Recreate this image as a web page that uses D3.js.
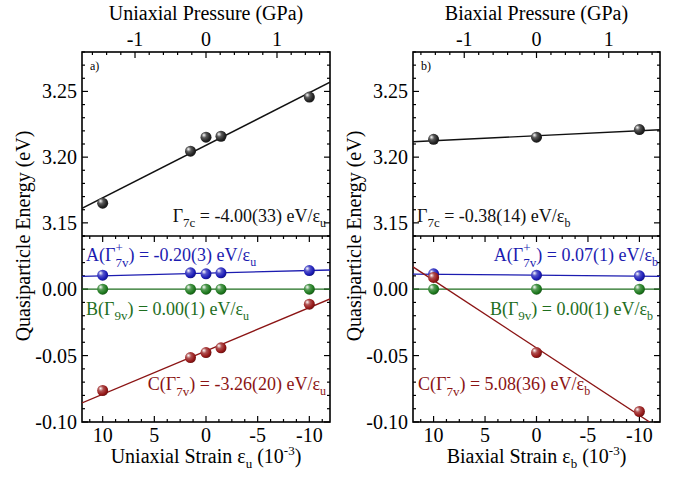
<!DOCTYPE html>
<html><head><meta charset="utf-8">
<script src="https://cdn.jsdelivr.net/npm/d3@7"></script>
<style>body{margin:0;background:#fff}svg{display:block}svg text{font-family:"Liberation Serif","Tinos","Times New Roman","DejaVu Serif",serif}</style>
</head><body>
<script>
// ---- data ----
const strainU = [10, 1.5, 0, -1.45, -10];
const topU = [3.165, 3.2045, 3.2152, 3.2159, 3.2457];
const aU = [0.0105, 0.0123, 0.0115, 0.0123, 0.014];
const bU = [0, 0, 0, 0, 0];
const cU = [-0.0763, -0.0515, -0.0477, -0.0442, -0.0113];

const strainB = [10, 0, -10];
const topB = [3.2136, 3.2152, 3.221];
const aB = [0.0115, 0.0105, 0.0100];
const bB = [0, 0, 0];
const cB = [0.0088, -0.0477, -0.0921];

// fit lines: [value at strain 0, slope per 1e-3 strain]
const fitTopU = [3.209, -0.0040];
const fitAU = [0.0120, -0.00020];
const fitBU = [0, 0];
const fitCU = [-0.0465, -0.00326];
const fitTopB = [3.2163, -0.00038];
const fitAB = [0.0105, 0.00007];
const fitBB = [0, 0];
const fitCB = [-0.0442, 0.00508];

// strain (1e-3) per GPa for the top pressure axis
const strainPerGPa = [6.87, 7.02];

const strainTicks = [10, 5, 0, -5, -10];
const pressureTicks = [-1, 0, 1];
const topTicks = [3.15, 3.20, 3.25];
const botTicks = [-0.10, -0.05, 0.00];

const colBlack = "#111", colA = "#1c1cb0", colB = "#1e6e1e", colC = "#8b1414";

const W = 691, H = 481;
const svg = d3.select("body").append("svg").attr("width", W).attr("height", H);
const defs = svg.append("defs");
function grad(id, c) {
  const g = defs.append("radialGradient").attr("id", id).attr("cx", "0.4").attr("cy", "0.4").attr("r", "0.65").attr("fx", "0.3").attr("fy", "0.3");
  g.append("stop").attr("offset", "0").attr("stop-color", "#fff");
  g.append("stop").attr("offset", "0.35").attr("stop-color", d3.interpolateRgb(c, "#fff")(0.25));
  g.append("stop").attr("offset", "0.75").attr("stop-color", c);
  g.append("stop").attr("offset", "1").attr("stop-color", d3.color(c).darker(1.2));
}
grad("gK", "#222"); grad("gA", "#1c1cb8"); grad("gB", "#1e7a1e"); grad("gC", "#961818");

const yTop = d3.scaleLinear().domain([3.14, 3.28]).range([236, 52]);
const yBot = d3.scaleLinear().domain([-0.10, 0.04]).range([422, 236]);

function panel(o) {
  const x = d3.scaleLinear().domain([12, -12]).range([o.x0, o.x1]);
  const xp = d3.scaleLinear().domain([-12 / o.spg, 12 / o.spg]).range([o.x0, o.x1]);
  const g = svg.append("g");
  const clipId = "clip" + o.id;
  defs.append("clipPath").attr("id", clipId).append("rect").attr("x", o.x0).attr("y", 52).attr("width", o.x1 - o.x0).attr("height", 370);

  const tg = g.append("g").attr("stroke", "#000").attr("stroke-width", 1.2);
  const sMinor = d3.range(-11.25, 12, 1.25).filter(v => Math.abs(v % 5) > 1e-6);
  const pMax = 12 / o.spg;
  const pMinor = d3.range(-1.6, 1.7, 0.2).map(v => +v.toFixed(2)).filter(v => Math.abs(v - Math.round(v)) > 1e-6 && Math.abs(v) < pMax);
  const topMinor = d3.range(3.14, 3.281, 0.01).map(v => +v.toFixed(2)).filter(v => Math.abs(Math.round(v * 100) % 5) > 0);
  const botMinor = d3.range(-0.10, 0.041, 0.01).map(v => +v.toFixed(2)).filter(v => Math.abs(Math.round(v * 100) % 5) > 0);
  const tk = (vals, pos, len, orient, yF, xF) => vals.forEach(v => {
    const p = pos(v);
    if (orient === "up" || orient === "down") tg.append("line").attr("x1", p).attr("x2", p).attr("y1", yF).attr("y2", yF + (orient === "up" ? -len : len));
    else tg.append("line").attr("y1", p).attr("y2", p).attr("x1", xF).attr("x2", xF + (orient === "left" ? -len : len));
  });
  tk(strainTicks, x, 6, "up", 422); tk(sMinor, x, 3, "up", 422);
  tk(strainTicks, x, 6, "down", 236); tk(sMinor, x, 3, "down", 236);
  tk(pressureTicks, xp, 6, "down", 52); tk(pMinor, xp, 3, "down", 52);
  tk(topTicks, yTop, 6, "right", 0, o.x0); tk(topMinor, yTop, 3, "right", 0, o.x0);
  tk(topTicks, yTop, 6, "left", 0, o.x1); tk(topMinor, yTop, 3, "left", 0, o.x1);
  tk(botTicks, yBot, 6, "right", 0, o.x0); tk(botMinor, yBot, 3, "right", 0, o.x0);
  tk(botTicks, yBot, 6, "left", 0, o.x1); tk(botMinor, yBot, 3, "left", 0, o.x1);

  g.append("rect").attr("x", o.x0).attr("y", 52).attr("width", o.x1 - o.x0).attr("height", 370).attr("fill", "none").attr("stroke", "#000").attr("stroke-width", 1.6);
  g.append("line").attr("x1", o.x0).attr("x2", o.x1).attr("y1", 236).attr("y2", 236).attr("stroke", "#000").attr("stroke-width", 1.6);

  const fs = 20;
  strainTicks.forEach(v => g.append("text").attr("x", x(v)).attr("y", 442).attr("text-anchor", "middle").attr("font-size", fs).text(v < 0 ? "-" + Math.abs(v) : String(v)));
  pressureTicks.forEach(v => g.append("text").attr("x", xp(v)).attr("y", 46).attr("text-anchor", "middle").attr("font-size", fs).text(v < 0 ? "-" + Math.abs(v) : String(v)));
  topTicks.forEach(v => g.append("text").attr("x", o.x0 - 5).attr("y", yTop(v) + 7).attr("text-anchor", "end").attr("font-size", fs).text(v.toFixed(2)));
  botTicks.forEach(v => g.append("text").attr("x", o.x0 - 5).attr("y", yBot(v) + 7).attr("text-anchor", "end").attr("font-size", fs).text(v < 0 ? "-" + Math.abs(v).toFixed(2) : v.toFixed(2)));

  const cx = (o.x0 + o.x1) / 2;
  g.append("text").attr("x", cx).attr("y", 20).attr("text-anchor", "middle").attr("font-size", 20).text(o.kind + " Pressure (GPa)");
  const bt = g.append("text").attr("x", cx).attr("y", 463).attr("text-anchor", "middle").attr("font-size", 20);
  bt.append("tspan").text(o.kind + " Strain ε");
  bt.append("tspan").attr("font-size", 13).attr("dy", 5).text(o.sub);
  bt.append("tspan").attr("dy", -5).text(" (10");
  bt.append("tspan").attr("font-size", 13).attr("dy", -8).text("-3");
  bt.append("tspan").attr("dy", 8).text(")");
  g.append("text").attr("transform", `translate(${o.x0 - 52},236) rotate(-90)`).attr("text-anchor", "middle").attr("font-size", 20).text("Quasiparticle Energy (eV)");
  g.append("text").attr("x", o.x0 + 8).attr("y", 70).attr("font-size", 12).text(o.letter);

  const cg = g.append("g").attr("clip-path", `url(#${clipId})`);
  const series = [
    { v: o.top, fit: o.fitTop, y: yTop, col: colBlack, grad: "gK", lw: 1.4 },
    { v: o.b, fit: o.fitB, y: yBot, col: colB, grad: "gB", lw: 1.3 },
    { v: o.a, fit: o.fitA, y: yBot, col: colA, grad: "gA", lw: 1.3 },
    { v: o.c, fit: o.fitC, y: yBot, col: colC, grad: "gC", lw: 1.3 },
  ];
  const lineGen = d3.line();
  series.forEach(sr => {
    const ends = [12, -12].map(s => [x(s), sr.y(sr.fit[0] + sr.fit[1] * s)]);
    cg.append("path").attr("d", lineGen(ends)).attr("stroke", sr.col).attr("stroke-width", sr.lw).attr("fill", "none");
  });
  series.forEach(sr => {
    o.strain.forEach((s, i) => {
      cg.append("circle").attr("cx", x(s)).attr("cy", sr.y(sr.v[i])).attr("r", 5.5).attr("fill", `url(#${sr.grad})`);
    });
  });

  function gammaLabel(spec, col, pre, sup, supW, sub, rest) {
    const t = g.append("text").attr("x", spec[0]).attr("y", spec[1]).attr("font-size", 18).attr("fill", col)
      .attr("text-anchor", spec[2] || "start");
    t.append("tspan").text(pre + "Γ");
    if (sup) {
      t.append("tspan").attr("font-size", 13).attr("dy", -9).text(sup);
      t.append("tspan").attr("font-size", 13).attr("dx", -supW).attr("dy", 15).text(sub);
      t.append("tspan").attr("dy", -6).text(rest);
    } else {
      t.append("tspan").attr("font-size", 13).attr("dy", 5).text(sub);
      t.append("tspan").attr("dy", -5).text(rest);
    }
    t.append("tspan").attr("font-size", 12).attr("dy", 5).text(o.sub);
    return t;
  }
  const L = o.labels;
  gammaLabel(L.top, colBlack, "", null, 0, "7c", " = " + o.txt[0] + " eV/ε");
  gammaLabel(L.a, colA, "A(", "+", 7.3, "7v", ") = " + o.txt[1] + " eV/ε");
  gammaLabel(L.b, colB, "B(", null, 0, "9v", ") = " + o.txt[2] + " eV/ε");
  gammaLabel(L.c, colC, "C(", "-", 4.3, "7v", ") = " + o.txt[3] + " eV/ε");
}

panel({ id: "u", x0: 82, x1: 330, spg: strainPerGPa[0], kind: "Uniaxial", sub: "u", letter: "a)",
  strain: strainU, top: topU, a: aU, b: bU, c: cU, fitTop: fitTopU, fitA: fitAU, fitB: fitBU, fitC: fitCU,
  txt: ["-4.00(33)", "-0.20(3)", "0.00(1)", "-3.26(20)"],
  labels: { top: [326, 222, "end"], a: [86, 261], b: [86, 315], c: [326, 390, "end"] } });
panel({ id: "b", x0: 413, x1: 660, spg: strainPerGPa[1], kind: "Biaxial", sub: "b", letter: "b)",
  strain: strainB, top: topB, a: aB, b: bB, c: cB, fitTop: fitTopB, fitA: fitAB, fitB: fitBB, fitC: fitCB,
  txt: ["-0.38(14)", "0.07(1)", "0.00(1)", "5.08(36)"],
  labels: { top: [417, 222], a: [658, 261, "end"], b: [653, 315, "end"], c: [418, 390] } });
</script>
</body></html>
